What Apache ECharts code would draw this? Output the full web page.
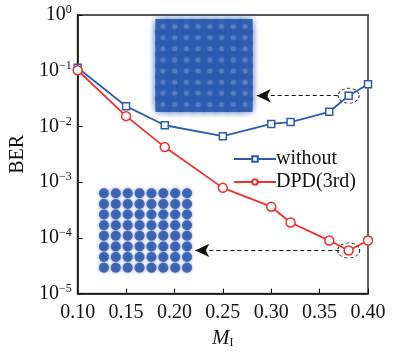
<!DOCTYPE html>
<html>
<head>
<meta charset="utf-8">
<script src="https://cdn.jsdelivr.net/npm/echarts@6/dist/echarts.min.js"></script>
<style>
  html, body { margin: 0; padding: 0; background: #fff; }
  #chart { width: 397px; height: 354px; }
</style>
</head>
<body>
<div id="chart"></div>
<script>
// modulation index values
const mIndex = [0.10, 0.15, 0.19, 0.25, 0.30, 0.32, 0.36, 0.38, 0.40];
// BER
const berWithout = [0.113, 0.0231, 0.0105, 0.0067, 0.0111, 0.0120, 0.0183, 0.0356, 0.0574];
const berDpd = [0.102, 0.0153, 0.00426, 0.00079, 0.000363, 0.000189, 0.0000895, 0.0000595, 0.0000895];
// 64QAM constellation levels for the insets
const qamLevels = [-7, -5, -3, -1, 1, 3, 5, 7];

const blue = "#2b5cb0";
const red = "#f0302c";
const serif = "Liberation Serif";

const chart = echarts.init(document.getElementById("chart"));

function pairs(x, y) {
  return x.map(function (v, i) { return [v, y[i]]; });
}

const qamPoints = [];
qamLevels.forEach(function (i) {
  qamLevels.forEach(function (q) {
    qamPoints.push([i, q]);
  });
});

function supLabel(v) {
  const e = Math.round(Math.log10(v));
  return "{b|10}{s|" + (e < 0 ? "\u2212" + (-e) : e) + "}";
}

const option = {
  animation: false,
  grid: [
    { left: 73, right: 29, top: 15, bottom: 57, show: true, borderColor: "#555", borderWidth: 1.8 },
    { left: 157, top: 21, width: 94, height: 89 },
    { left: 98, top: 188, width: 95, height: 85 }
  ],
  xAxis: [
    {
      type: "value",
      gridIndex: 0,
      min: 0.1,
      max: 0.4,
      interval: 0.05,
      name: "{m|M}{i|I}",
      nameLocation: "middle",
      nameGap: 32,
      nameTextStyle: {
        rich: {
          m: { fontFamily: serif, fontStyle: "italic", fontSize: 21, color: "#111" },
          i: { fontFamily: serif, fontSize: 12, color: "#111", padding: [10, 0, 0, 0] }
        }
      },
      axisLine: { lineStyle: { color: "#111", width: 1.5 } },
      axisTick: { inside: true, length: 5, lineStyle: { color: "#111" } },
      splitLine: { show: false },
      axisLabel: {
        fontFamily: serif,
        fontSize: 20,
        color: "#111",
        margin: 9,
        formatter: function (v) { return v.toFixed(2); }
      }
    },
    { type: "value", gridIndex: 1, min: -8, max: 8, show: false },
    { type: "value", gridIndex: 2, min: -8, max: 8, show: false }
  ],
  yAxis: [
    {
      type: "log",
      gridIndex: 0,
      logBase: 10,
      min: 1e-5,
      max: 1,
      name: "BER",
      nameLocation: "middle",
      nameGap: 45,
      nameTextStyle: { fontFamily: serif, fontSize: 20, color: "#111" },
      axisLine: { show: true, lineStyle: { color: "#111", width: 1.5 } },
      axisTick: { inside: true, length: 5, lineStyle: { color: "#111" } },
      splitLine: { show: false },
      axisLabel: {
        margin: 6,
        formatter: supLabel,
        rich: {
          b: { fontFamily: serif, fontSize: 20, color: "#111" },
          s: { fontFamily: serif, fontSize: 12, color: "#111", padding: [0, 0, 10, 0] }
        }
      }
    },
    { type: "value", gridIndex: 1, min: -8, max: 8, show: false },
    { type: "value", gridIndex: 2, min: -8, max: 8, show: false }
  ],
  legend: {
    orient: "vertical",
    left: 228,
    top: 144,
    itemWidth: 42,
    itemHeight: 7,
    itemGap: 3,
    textStyle: { fontFamily: serif, fontSize: 20, color: "#111", padding: [0, 0, 0, -5] },
    data: ["without", "DPD(3rd)"]
  },
  series: [
    {
      name: "without",
      type: "line",
      xAxisIndex: 0,
      yAxisIndex: 0,
      data: pairs(mIndex, berWithout),
      symbol: "rect",
      symbolSize: 7,
      color: blue,
      lineStyle: { width: 1.8, color: blue },
      itemStyle: { color: "#fff", borderColor: blue, borderWidth: 1.5 },
      z: 5,
      markLine: {
        silent: true,
        symbol: ["arrow", "none"],
        symbolSize: [10, 14],
        label: { show: false },
        lineStyle: { color: "#111", type: [4, 3], width: 1.2 },
        itemStyle: { color: "#111" },
        data: [[{ coord: [0.285, berWithout[7]] }, { coord: [0.3715, berWithout[7]] }]]
      },
      markPoint: {
        silent: true,
        symbol: "circle",
        symbolSize: [21, 15],
        label: { show: false },
        itemStyle: { color: "rgba(0,0,0,0)", borderColor: "#333", borderWidth: 1, borderType: [3, 2] },
        data: [{ coord: [mIndex[7], berWithout[7]] }]
      }
    },
    {
      name: "DPD(3rd)",
      type: "line",
      xAxisIndex: 0,
      yAxisIndex: 0,
      data: pairs(mIndex, berDpd),
      symbol: "circle",
      symbolSize: 9,
      color: red,
      lineStyle: { width: 1.8, color: red },
      itemStyle: { color: "#fff", borderColor: red, borderWidth: 1.5 },
      z: 5,
      markLine: {
        silent: true,
        symbol: ["arrow", "none"],
        symbolSize: [10, 14],
        label: { show: false },
        lineStyle: { color: "#111", type: [4, 3], width: 1.2 },
        itemStyle: { color: "#111" },
        data: [[{ coord: [0.2215, berDpd[7]] }, { coord: [0.3715, berDpd[7]] }]]
      },
      markPoint: {
        silent: true,
        symbol: "circle",
        symbolSize: [22, 15],
        label: { show: false },
        itemStyle: { color: "rgba(0,0,0,0)", borderColor: "#333", borderWidth: 1, borderType: [3, 2] },
        data: [{ coord: [mIndex[7], berDpd[7]] }]
      }
    },
    // noisy constellation (without DPD)
    {
      type: "scatter",
      xAxisIndex: 1,
      yAxisIndex: 1,
      data: qamPoints,
      symbol: "rect",
      symbolSize: 15,
      silent: true,
      itemStyle: { color: "#2d5bb0", opacity: 0.92, shadowBlur: 6, shadowColor: "rgba(45,91,176,0.9)" }
    },
    {
      type: "scatter",
      xAxisIndex: 1,
      yAxisIndex: 1,
      data: qamPoints,
      symbol: "circle",
      symbolSize: 5,
      silent: true,
      itemStyle: { color: "rgba(170,190,235,0.35)", shadowBlur: 4, shadowColor: "rgba(220,230,255,0.5)" }
    },
    // clean constellation (with DPD)
    {
      type: "scatter",
      xAxisIndex: 2,
      yAxisIndex: 2,
      data: qamPoints,
      symbol: "circle",
      symbolSize: 10,
      silent: true,
      itemStyle: { color: "#2a56aa", shadowBlur: 3, shadowColor: "rgba(60,100,190,0.9)" }
    }
  ]
};

chart.setOption(option);
</script>
</body>
</html>
